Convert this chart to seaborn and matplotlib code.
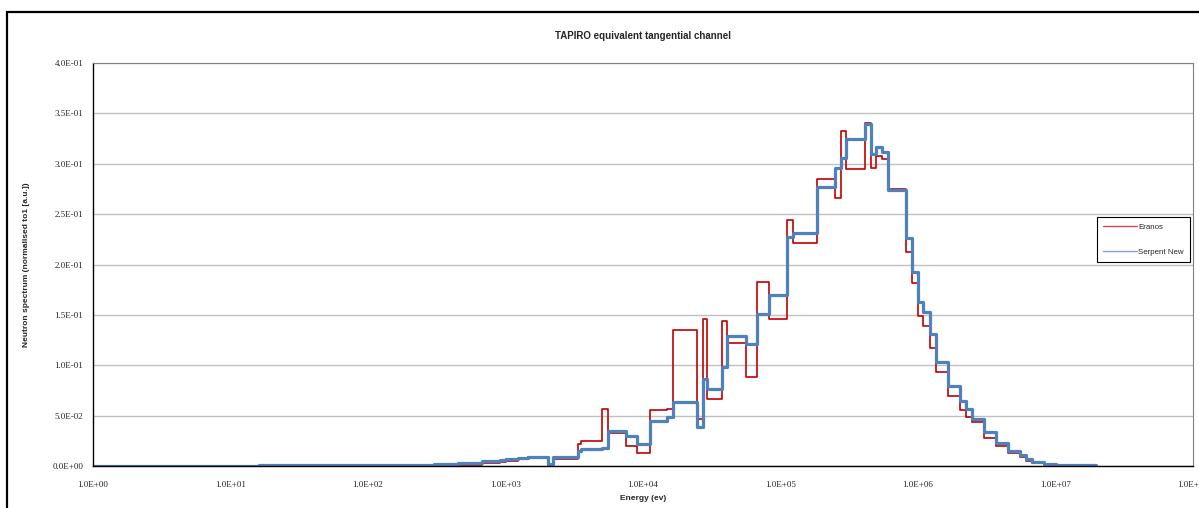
import pandas as pd
import numpy as np
import matplotlib
matplotlib.use('Agg')
import matplotlib.pyplot as plt
from matplotlib.patches import Rectangle
from matplotlib.ticker import FixedLocator, MultipleLocator, FuncFormatter
import seaborn as sns

# Group boundaries (eV)
energy_edges = [1, 16, 304.3, 454.0, 680, 912, 1009, 1234.1, 1458, 2034.7, 2215,
                3354.6, 3524, 5035, 5530.8, 7480, 9118.8, 11150, 15034, 16600,
                24788, 27470, 29380, 37340, 40868, 55730, 67379, 82460, 111090,
                122700, 183160, 249000, 274000, 301970, 411500, 455000, 497870,
                550000, 607600, 820850, 902000, 1.0e6, 1.094e6, 1.223e6, 1.3534e6,
                1.66e6, 2.02e6, 2.2313e6, 2.48e6, 3.02e6, 3.6788e6, 4.54e6, 5.52e6,
                6.0653e6, 6.71e6, 8.3e6, 1.0e7, 1.964e7]

# Spectrum per group (normalised to 1)
eranos = [0.0002, 0.0003, 0.0003, 0.0005, 0.0027, 0.0037, 0.005, 0.0066, 0.0086, 0.0,
          0.0066, 0.0215, 0.0248, 0.057, 0.0324, 0.0201, 0.0129, 0.0559, 0.0569, 0.135,
          0.0463, 0.1455, 0.0662, 0.1438, 0.1217, 0.0886, 0.1828, 0.1461, 0.244, 0.221,
          0.2847, 0.2664, 0.3326, 0.2943, 0.3408, 0.2956, 0.3075, 0.3046, 0.2753, 0.2126,
          0.182, 0.1488, 0.1389, 0.1168, 0.0935, 0.0697, 0.0556, 0.0489, 0.044, 0.0282,
          0.0198, 0.0126, 0.0086, 0.0053, 0.0027, 0.001, 0.0005]

serpent_new = [0.0002, 0.0008, 0.0017, 0.0027, 0.005, 0.0057, 0.0069, 0.0082, 0.0092, 0.002,
               0.0092, 0.0152, 0.0169, 0.0182, 0.035, 0.0298, 0.0218, 0.0446, 0.0489, 0.0638,
               0.039, 0.0863, 0.0764, 0.0985, 0.129, 0.121, 0.1508, 0.1696, 0.2275, 0.2309,
               0.2765, 0.2953, 0.3053, 0.3241, 0.3393, 0.3098, 0.317, 0.312, 0.2738, 0.2262,
               0.1927, 0.1632, 0.1531, 0.131, 0.1035, 0.0794, 0.0648, 0.0563, 0.0463, 0.034,
               0.0231, 0.0149, 0.0109, 0.0069, 0.004, 0.0017, 0.0007]

x_ticks = [10.0 ** k for k in range(0, 9)]

sns.set_style('white')
plt.rcParams['font.family'] = ['Liberation Sans', 'DejaVu Sans']

# step data: each value holds from its left edge, last value repeated at the final edge
df = pd.DataFrame({
    'Energy': energy_edges * 2,
    'Flux': eranos + [eranos[-1]] + serpent_new + [serpent_new[-1]],
    'Code': ['Eranos'] * len(energy_edges) + ['Serpent New'] * len(energy_edges),
})

fig = plt.figure(figsize=(11.99, 5.08), dpi=100)
ax = fig.add_axes([93 / 1199, 1 - 466 / 508, 1100 / 1199, 403 / 508])

sns.lineplot(data=df[df['Code'] == 'Eranos'], x='Energy', y='Flux', ax=ax,
             color='#C00000', linewidth=1.2, drawstyle='steps-post',
             errorbar=None, label='Eranos')
sns.lineplot(data=df[df['Code'] == 'Serpent New'], x='Energy', y='Flux', ax=ax,
             color='#4F81BD', linewidth=2.3, drawstyle='steps-post',
             errorbar=None, label='Serpent New')

ax.set_xscale('log')
ax.set_xlim(1, 1e8)
ax.set_ylim(0, 0.4)
ax.xaxis.set_major_locator(FixedLocator(x_ticks))
ax.xaxis.set_minor_locator(matplotlib.ticker.LogLocator(base=10, subs=np.arange(2, 10)))
ax.xaxis.set_major_formatter(FuncFormatter(lambda v, p: '{:.1E}'.format(v)))
ax.xaxis.set_minor_formatter(matplotlib.ticker.NullFormatter())
ax.yaxis.set_major_locator(MultipleLocator(0.05))
ax.yaxis.set_minor_locator(MultipleLocator(0.01))
ax.yaxis.set_major_formatter(FuncFormatter(lambda v, p: '{:.1E}'.format(v)))

for lab in ax.get_xticklabels() + ax.get_yticklabels():
    lab.set_family(['Liberation Serif', 'DejaVu Serif'])
    lab.set_fontsize(6.5)

ax.tick_params(axis='both', which='major', direction='out', length=4, width=0.8,
               color='black', pad=3)
ax.tick_params(axis='both', which='minor', direction='out', length=2, width=0.6,
               color='black')
ax.tick_params(axis='x', which='major', pad=7)

ax.grid(axis='y', which='major', color='#c0c0c0', linewidth=1)
ax.grid(axis='x', visible=False)
ax.set_axisbelow(True)

ax.spines['left'].set_color('black')
ax.spines['bottom'].set_color('black')
ax.spines['left'].set_linewidth(1)
ax.spines['bottom'].set_linewidth(1)
ax.spines['top'].set_color('#808080')
ax.spines['right'].set_color('#808080')
ax.spines['top'].set_linewidth(0.8)
ax.spines['right'].set_linewidth(0.8)

ax.set_title('TAPIRO equivalent tangential channel', fontsize=7, fontweight='bold', pad=17)
ax.set_xlabel('Energy (ev)', fontsize=6, fontweight='bold', labelpad=4)
ax.set_ylabel('Neutron spectrum (normalised to1 [a.u.])', fontsize=6, fontweight='bold',
              labelpad=16)

leg = ax.legend(loc='upper left', bbox_to_anchor=(0.9127, 0.618), borderaxespad=0,
                fontsize=5.7, frameon=True, fancybox=False, edgecolor='black',
                framealpha=1, handlelength=4.2, labelspacing=2.2, borderpad=0.8,
                handletextpad=0.2)
leg.get_frame().set_linewidth(0.8)
for h in leg.get_lines():
    h.set_linewidth(1.0)
    h.set_alpha(0.7)

# outer chart border
fig.patches.append(Rectangle((7 / 1199, -0.1), 1.2, (508 - 12) / 508 + 0.1,
                             transform=fig.transFigure, fill=False,
                             edgecolor='black', linewidth=1.6))

fig.savefig('out.png', dpi=100)
